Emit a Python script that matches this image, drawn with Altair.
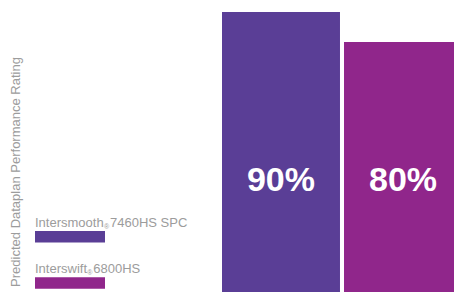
import altair as alt
import pandas as pd

products = ["Intersmooth 7460HS SPC", "Interswift 6800HS"]
ratings = [90, 80]
labels = ["90%", "80%"]
colors = ["#5A3E96", "#90268B"]
y_title = "Predicted Dataplan Performance Rating"
legend_names = [("Intersmooth", "®", "7460HS SPC"), ("Interswift", "®", "6800HS")]

FONT = "Liberation Sans"
GREY = "#9c9c9c"

df = pd.DataFrame({"product": products, "rating": ratings, "label": labels})

xs = alt.X("product:N", sort=products, axis=None,
           scale=alt.Scale(range=[214, 454], paddingInner=0.033, paddingOuter=0))
ys = alt.Scale(domain=[-6, 91.33], range=[292, 0], nice=False, zero=False)

bars = alt.Chart(df).mark_bar().encode(
    x=xs,
    y=alt.Y("rating:Q", scale=ys, axis=None),
    y2=alt.datum(-6),
    color=alt.Color("product:N", scale=alt.Scale(domain=products, range=colors), legend=None),
)

bar_text = alt.Chart(df).mark_text(
    font=FONT, fontSize=34, fontWeight="bold", color="white",
    align="center", baseline="alphabetic"
).encode(x=xs, text="label:N", y=alt.value(183))

layers = [bars, bar_text]

# y title
layers.append(
    alt.Chart(pd.DataFrame({"t": [y_title]})).mark_text(
        font=FONT, fontSize=13, color=GREY, angle=270,
        align="center", baseline="alphabetic"
    ).encode(text="t:N", x=alt.value(11.5), y=alt.value(164))
)

# legend
leg_base = [218.7, 264.7]
sw_top = [223, 269.3]
name_x = [(27, 96, 102), (27, 79.3, 85.3)]
for i, (a, r, b) in enumerate(legend_names):
    layers.append(
        alt.Chart(pd.DataFrame({"t": [a]})).mark_text(
            font=FONT, fontSize=13, color=GREY, align="left", baseline="alphabetic"
        ).encode(text="t:N", x=alt.value(name_x[i][0]), y=alt.value(leg_base[i]))
    )
    layers.append(
        alt.Chart(pd.DataFrame({"t": [r]})).mark_text(
            font=FONT, fontSize=7, color=GREY, align="left", baseline="alphabetic"
        ).encode(text="t:N", x=alt.value(name_x[i][1]), y=alt.value(leg_base[i] + 2.5))
    )
    layers.append(
        alt.Chart(pd.DataFrame({"t": [b]})).mark_text(
            font=FONT, fontSize=13, color=GREY, align="left", baseline="alphabetic"
        ).encode(text="t:N", x=alt.value(name_x[i][2]), y=alt.value(leg_base[i]))
    )
    layers.append(
        alt.Chart(pd.DataFrame({"c": [colors[i]]})).mark_rect(color=colors[i]).encode(
            x=alt.value(27), x2=alt.value(97),
            y=alt.value(sw_top[i]), y2=alt.value(sw_top[i] + 11.5),
        )
    )

chart = alt.layer(*layers).properties(
    width=446, height=284, padding=0,
    autosize=alt.AutoSizeParams(type="none")
).configure_view(stroke=None)

chart.save("out.html", embed_options={"renderer": "svg", "actions": False})
